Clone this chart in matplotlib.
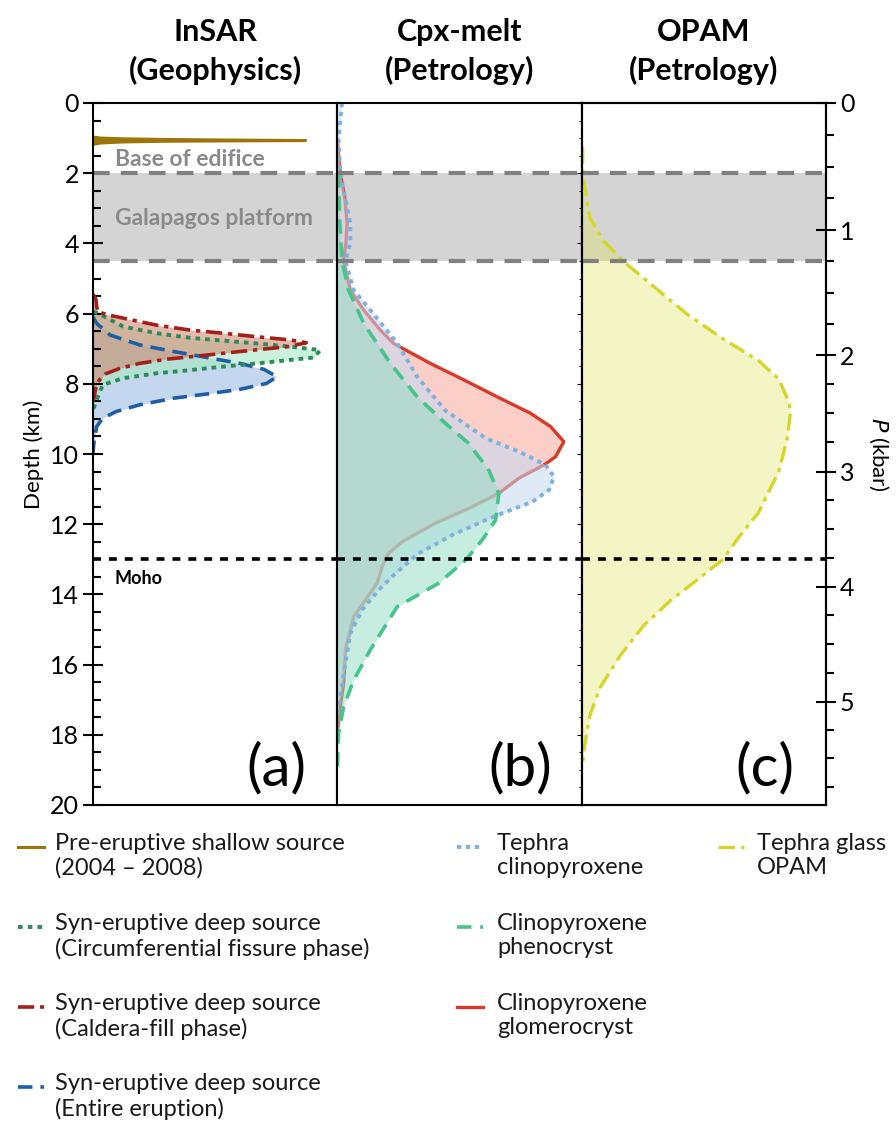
import numpy as np
import matplotlib
matplotlib.use('Agg')
import matplotlib.pyplot as plt
from matplotlib.lines import Line2D

plt.rcParams['font.family'] = ['Lato', 'DejaVu Sans']


## Profiles as (depth in km, relative density) pairs, closed against the depth axis

# InSAR sources
pre_depth = [0.97, 1.00, 1.02, 1.04, 1.055, 1.07, 1.08, 1.09, 1.11, 1.14, 1.18]
pre_val = [0.0, 0.03, 0.12, 0.30, 0.55, 0.87, 0.55, 0.30, 0.12, 0.03, 0.0]

circ_depth = [5.95, 5.99, 6.37, 6.56, 6.69, 6.77, 6.85, 6.94, 7.04, 7.25, 7.32, 7.42,
              7.51, 7.61, 7.70, 7.84, 8.03, 8.37, 8.75]
circ_val = [0.0, 0.02, 0.124, 0.261, 0.398, 0.534, 0.671, 0.807, 0.93, 0.905, 0.807, 0.671,
            0.534, 0.398, 0.261, 0.124, 0.04, 0.02, 0.0]

cald_depth = [5.45, 5.60, 5.80, 5.95, 6.05, 6.13, 6.33, 6.47, 6.56, 6.66, 6.75, 6.83,
              6.94, 7.01, 7.11, 7.20, 7.30, 7.42, 7.56, 7.72, 7.98, 8.37, 8.50]
cald_val = [0.0, 0.012, 0.015, 0.02, 0.07, 0.124, 0.261, 0.398, 0.534, 0.671, 0.807, 0.873,
            0.80, 0.70, 0.56, 0.44, 0.30, 0.19, 0.11, 0.05, 0.015, 0.005, 0.0]

entire_depth = [6.10, 6.28, 6.61, 6.89, 7.08, 7.25, 7.42, 7.59, 7.80, 7.99, 8.16, 8.29,
                8.41, 8.60, 8.79, 8.98, 9.22, 9.60, 9.97]
entire_val = [0.0, 0.015, 0.07, 0.19, 0.33, 0.466, 0.602, 0.70, 0.753, 0.71, 0.60, 0.466,
              0.33, 0.19, 0.095, 0.04, 0.015, 0.005, 0.0]

# Cpx-melt barometry
tephra_depth = [0.0, 1.05, 2.0, 3.43, 4.0, 4.5, 5.33, 5.9, 6.84, 7.8, 8.75, 9.55, 9.93,
                10.31, 10.65, 11.03, 11.36, 11.69, 11.88, 12.31, 12.83, 13.40, 13.87,
                14.44, 15.11, 15.96, 16.63, 17.2, 17.5]
tephra_val = [0.019, 0.005, 0.012, 0.053, 0.053, 0.033, 0.067, 0.135, 0.245, 0.327, 0.44,
              0.607, 0.743, 0.852, 0.887, 0.866, 0.798, 0.675, 0.607, 0.47, 0.333, 0.238,
              0.17, 0.101, 0.053, 0.033, 0.019, 0.005, 0.0]

pheno_depth = [2.0, 3.4, 4.5, 5.33, 6.28, 7.42, 8.37, 9.13, 9.70, 10.46, 11.12, 11.88,
               12.45, 13.02, 13.68, 14.35, 15.58, 16.44, 17.2, 17.96, 19.0]
pheno_val = [0.005, 0.01, 0.019, 0.046, 0.108, 0.217, 0.327, 0.443, 0.538, 0.62, 0.661,
             0.648, 0.593, 0.525, 0.415, 0.245, 0.135, 0.067, 0.026, 0.005, 0.0]

glomero_depth = [1.05, 2.0, 2.7, 3.42, 4.0, 4.5, 5.33, 5.9, 6.47, 6.85, 7.42, 7.89, 8.37,
                 8.84, 9.22, 9.65, 10.08, 10.31, 10.69, 11.12, 11.55, 11.97, 12.50, 12.83,
                 13.21, 13.68, 14.16, 14.63, 15.58, 16.53, 17.2, 17.95]
glomero_val = [0.0, 0.012, 0.03, 0.04, 0.035, 0.025, 0.053, 0.108, 0.176, 0.23, 0.381,
               0.518, 0.654, 0.791, 0.873, 0.927, 0.893, 0.846, 0.743, 0.661, 0.538, 0.402,
               0.265, 0.21, 0.183, 0.163, 0.115, 0.067, 0.033, 0.026, 0.012, 0.0]

# OPAM glass barometry
opam_depth = [1.25, 2.0, 3.28, 3.93, 4.52, 5.24, 6.03, 6.69, 7.34, 7.87, 8.52, 8.78,
              9.57, 10.49, 11.67, 12.39, 13.0, 13.57, 14.16, 14.88, 15.73, 16.65, 17.44,
              18.22, 18.81]
opam_val = [0.004, 0.004, 0.034, 0.09, 0.172, 0.297, 0.434, 0.572, 0.724, 0.807, 0.848,
            0.855, 0.841, 0.807, 0.724, 0.641, 0.579, 0.476, 0.366, 0.255, 0.159, 0.076,
            0.034, 0.014, 0.004]

## Reference horizons (km)
edifice_base = 2.0
platform_base = 4.5
moho = 13.0

## Pressure axis: kbar and the depth each value sits at
kbar_vals = [0.0, 1.0, 2.0, 3.0, 4.0, 5.0, 5.75]
kbar_depth = [0.0, 3.62, 7.18, 10.50, 13.78, 17.06, 19.48]

col_titles = ['InSAR\n(Geophysics)', 'Cpx-melt\n(Petrology)', 'OPAM\n(Petrology)']
panel_tags = ['(a)', '(b)', '(c)']


fig = plt.figure(figsize=(8.96, 11.28), dpi=100)
W, H = 896., 1128.
x0, x1, ytop, ybot = 93., 826., 103., 805.
pw = (x1 - x0) / 3.
axs = []
for i in range(3):
    ax = fig.add_axes([(x0 + i*pw)/W, 1 - ybot/H, pw/W, (ybot - ytop)/H],
                      sharey=axs[0] if axs else None)
    ax.set_xlim(0, 1)
    ax.set_ylim(20, 0)
    ax.set_xticks([])
    for s in ax.spines.values():
        s.set_linewidth(1.5)
        s.set_zorder(6)
    ax.tick_params(left=False, labelleft=False)
    axs.append(ax)
ax_a, ax_b, ax_c = axs

## Depth axis on the left
ax_a.set_yticks(np.arange(0, 21, 2))
ax_a.set_yticks(np.arange(0, 20.01, 0.5), minor=True)
ax_a.tick_params(axis='y', which='major', left=True, labelleft=True, direction='inout',
                 length=14, width=1.5, labelsize=18, pad=3)
ax_a.tick_params(axis='y', which='minor', left=True, direction='in', length=6, width=1.5)
ax_a.set_ylabel('Depth (km)', fontsize=16, labelpad=4)
for ax in (ax_b, ax_c):
    ax.tick_params(axis='y', which='both', left=False, labelleft=False)

## Pressure axis on the right
ax_p = ax_c.twinx()
ax_p.set_ylim(20, 0)
p_major = np.arange(0, 6)
p_minor = np.arange(0, 5.76, 0.25)
ax_p.set_yticks(np.interp(p_major, kbar_vals, kbar_depth))
ax_p.set_yticklabels([str(int(p)) for p in p_major])
ax_p.set_yticks(np.interp(p_minor, kbar_vals, kbar_depth), minor=True)
ax_p.tick_params(axis='y', which='major', direction='inout', length=14, width=1.5,
                 labelsize=18, pad=3)
ax_p.tick_params(axis='y', which='minor', direction='out', length=6, width=1.5)
ax_p.set_ylabel('$P$ (kbar)', fontsize=16, rotation=270, labelpad=26)
for s in ax_p.spines.values():
    s.set_linewidth(1.5)

## Galapagos platform band, edifice base and Moho
for ax in axs:
    ax.axhspan(edifice_base, platform_base, color='#d4d4d4', lw=0, zorder=0.5)
    ax.axhline(edifice_base, color='#808080', lw=3, ls=(0, (4, 2.7)), zorder=3)
    ax.axhline(platform_base, color='#808080', lw=3, ls=(0, (4, 2.7)), zorder=3)
    ax.axhline(moho, color='black', lw=2.6, ls=(0, (2.2, 2.2)), zorder=5)

ax_a.text(0.09, 1.9, 'Base of edifice', color='#8a8a8a', fontsize=16.5, fontweight='bold', va='bottom')
ax_a.text(0.09, 3.3, 'Galapagos platform', color='#8a8a8a', fontsize=16.5, fontweight='bold', va='center')
ax_a.text(0.09, 13.55, 'Moho', color='black', fontsize=13, fontweight='bold', va='center')

## Styles
st_pre = dict(color='#9c7408', ls='-', lw=2.2)
st_circ = dict(color='#2e8a5a', ls=(0, (1.2, 1.3)), lw=2.8)
st_cald = dict(color='#a3201a', ls=(0, (4.5, 1.6, 1.2, 1.6)), lw=2.6)
st_entire = dict(color='#1d5ea6', ls=(0, (4, 2.2)), lw=2.6)
st_tephra = dict(color='#7fb0de', ls=(0, (1.1, 1.2)), lw=2.8)
st_pheno = dict(color='#45c48c', ls=(0, (4, 2.4)), lw=2.6)
st_glomero = dict(color='#d83a2a', ls='-', lw=2.4)
st_opam = dict(color='#d5d52a', ls=(0, (5, 1.8, 1.2, 1.8)), lw=2.4)

## (a) InSAR
ax_a.fill_betweenx(entire_depth, 0, entire_val, color='#b7cdea', alpha=0.8, lw=0, zorder=1)
ax_a.fill_betweenx(circ_depth, 0, circ_val, color='#a6e8c4', alpha=0.6, lw=0, zorder=1.1)
ax_a.fill_betweenx(cald_depth, 0, cald_val, color='#d3806a', alpha=0.55, lw=0, zorder=1.2)
ax_a.plot(entire_val, entire_depth, zorder=2, **st_entire)
ax_a.plot(circ_val, circ_depth, zorder=2.1, **st_circ)
ax_a.plot(cald_val, cald_depth, zorder=2.2, **st_cald)
ax_a.fill_betweenx(pre_depth, 0, pre_val, color=st_pre['color'], lw=0, zorder=2.3)
ax_a.plot(pre_val, pre_depth, zorder=2.3, **st_pre)

## (b) Cpx-melt
ax_b.fill_betweenx(glomero_depth, 0, glomero_val, color='#fbc9c2', alpha=0.9, lw=0, zorder=1)
ax_b.plot(glomero_val, glomero_depth, zorder=1.1, **st_glomero)
ax_b.fill_betweenx(tephra_depth, 0, tephra_val, color='#c4dbf2', alpha=0.55, lw=0, zorder=1.2)
ax_b.fill_betweenx(pheno_depth, 0, pheno_val, color='#8fdcc2', alpha=0.5, lw=0, zorder=1.3)
ax_b.plot(tephra_val, tephra_depth, zorder=2, **st_tephra)
ax_b.plot(pheno_val, pheno_depth, zorder=2.1, **st_pheno)

## (c) OPAM
ax_c.fill_betweenx(opam_depth, 0, opam_val, color='#e1e45a', alpha=0.35, lw=0, zorder=1)
ax_c.plot(opam_val, opam_depth, zorder=2, **st_opam)

for ax, title, tag in zip(axs, col_titles, panel_tags):
    ax.text(0.5, 1.0 + 18/702., title, transform=ax.transAxes, ha='center', va='bottom',
            fontsize=22, fontweight='bold', linespacing=1.4)
    ax.text(0.75, 0.052, tag, transform=ax.transAxes, ha='center', va='center', fontsize=42)

## Legend, three columns laid out below the panels
legend_cols = [
    [(st_pre, 'Pre-eruptive shallow source\n(2004 – 2008)'),
     (st_circ, 'Syn-eruptive deep source\n(Circumferential fissure phase)'),
     (st_cald, 'Syn-eruptive deep source\n(Caldera-fill phase)'),
     (st_entire, 'Syn-eruptive deep source\n(Entire eruption)')],
    [(st_tephra, 'Tephra\nclinopyroxene'),
     (st_pheno, 'Clinopyroxene\nphenocryst'),
     (st_glomero, 'Clinopyroxene\nglomerocryst')],
    [(st_opam, 'Tephra glass\nOPAM')],
]
col_x = [(18, 55), (457, 497), (718, 757)]
row_y0, row_dy = 847, 80
for (hx, tx), entries in zip(col_x, legend_cols):
    for j, (st, label) in enumerate(entries):
        yy = 1 - (row_y0 + j*row_dy)/H
        fig.add_artist(Line2D([hx/W, (hx + 26)/W], [yy, yy], transform=fig.transFigure,
                              color=st['color'], ls=st['ls'], lw=st['lw']))
        fig.text(tx/W, yy + 14/H, label, ha='left', va='top', fontsize=17,
                 linespacing=1.2, color='#1a1a1a')

fig.savefig('out.png', dpi=100)
